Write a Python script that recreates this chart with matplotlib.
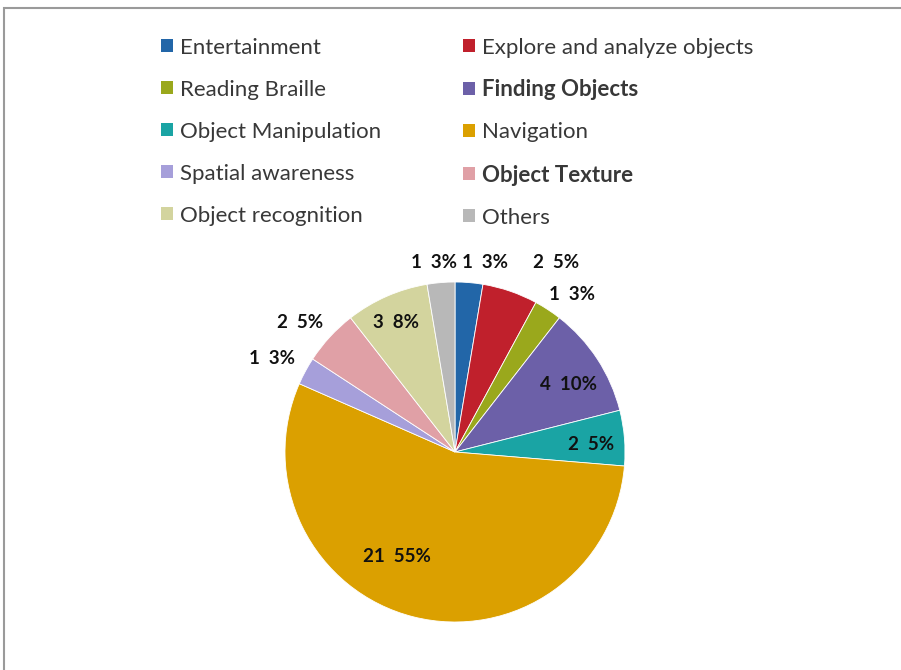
import matplotlib
matplotlib.use("Agg")
import matplotlib.pyplot as plt
from matplotlib.patches import Rectangle, Patch

# Data: usage categories, counts and the percentage shown on each slice
categories = [
    "Entertainment", "Explore and analyze objects", "Reading Braille",
    "Finding Objects", "Object Manipulation", "Navigation",
    "Spatial awareness", "Object Texture", "Object recognition", "Others",
]
counts = [1, 2, 1, 4, 2, 21, 1, 2, 3, 1]
percents = [3, 5, 3, 10, 5, 55, 3, 5, 8, 3]

colors = [
    "#2266A8", "#C0202C", "#9AA81C", "#6C60A8", "#1AA4A4",
    "#DBA000", "#A69FDA", "#E0A0A6", "#D3D49E", "#B8B8B8",
]

# Label anchor positions (pixels from top-left of the figure)
label_px = [
    (485, 263), (556, 263), (572, 294), (568, 385), (591, 444),
    (397, 556), (272, 358), (300, 322), (396, 323), (434, 263),
]

W, H = 901, 670
fig = plt.figure(figsize=(W / 100, H / 100), dpi=100)
ax = fig.add_axes([0, 0, 1, 1])

cx, cy, r = 455, H - 452, 170
ax.pie(counts, colors=colors, startangle=90, counterclock=False,
       center=(cx, cy), radius=r,
       wedgeprops=dict(edgecolor="white", linewidth=0.6))
ax.set_xlim(0, W)
ax.set_ylim(0, H)
ax.set_aspect("equal")
ax.axis("off")

for (px, py), n, p in zip(label_px, counts, percents):
    ax.text(px, H - py, f"{n}  {p}%", ha="center", va="center",
            fontsize=13.5, fontweight="bold", family="Lato", color="#111111")

# Chart border (frame continues past right and bottom edges)
ax.add_patch(Rectangle((3.5, -10), W + 20, H - 7.5 + 10, fill=False,
                       edgecolor="#9a9a9a", linewidth=1.5))

# Two-column legend
handles = [Patch(facecolor=c, edgecolor="none") for c in colors]
left_idx = [0, 2, 4, 6, 8]
right_idx = [1, 3, 5, 7, 9]
bold_labels = {"Finding Objects", "Object Texture"}

def make_legend(idx, x_px):
    leg = ax.legend([handles[i] for i in idx], [categories[i] for i in idx],
                    loc="upper left", bbox_to_anchor=(x_px / W, 1 - 37.5 / H),
                    bbox_transform=fig.transFigure, frameon=False,
                    prop=dict(family="Lato", size=16),
                    handlelength=0.54, handleheight=0.54, handletextpad=0.32,
                    labelspacing=0.99, borderpad=0, borderaxespad=0)
    for t in leg.get_texts():
        t.set_color("#383838")
        if t.get_text() in bold_labels:
            t.set_fontweight("bold")
    return leg

leg1 = make_legend(left_idx, 161)
ax.add_artist(leg1)
make_legend(right_idx, 463)

fig.savefig("out.png", dpi=100)
